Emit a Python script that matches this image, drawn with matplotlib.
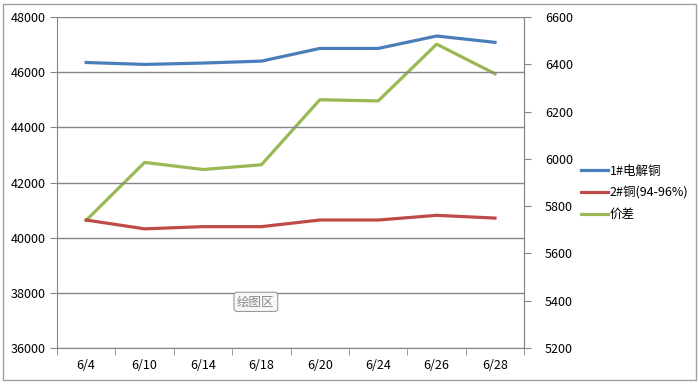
import matplotlib.pyplot as plt
from matplotlib.patches import Rectangle

plt.rcParams['font.family'] = ['Noto Sans CJK SC', 'DejaVu Sans']

# data
dates = ['6/4', '6/10', '6/14', '6/18', '6/20', '6/24', '6/26', '6/28']
cu1 = [46350, 46280, 46330, 46400, 46860, 46860, 47310, 47080]
cu2 = [40640, 40320, 40400, 40400, 40640, 40640, 40810, 40710]
spread = [5740, 5985, 5955, 5975, 6250, 6245, 6485, 6360]
left_ticks = [36000, 38000, 40000, 42000, 44000, 46000, 48000]
right_ticks = [5200, 5400, 5600, 5800, 6000, 6200, 6400, 6600]

gray = '#868686'
fig = plt.figure(figsize=(6.99, 3.86), dpi=100)
fig.patches.append(Rectangle((0.005, 0.015), 0.991, 0.975, transform=fig.transFigure,
                             fill=False, edgecolor='#a0a0a0', lw=1))

ax = fig.add_axes([0.0815, 0.0984, 0.6685, 0.8576])
ax2 = ax.twinx()

x = range(len(dates))
l1, = ax.plot(x, cu1, color='#4A7EBB', lw=2.3, label='1#电解铜')
l2, = ax.plot(x, cu2, color='#BE4B48', lw=2.3, label='2#铜(94-96%)')
l3, = ax2.plot(x, spread, color='#98B954', lw=2.3, label='价差')

ax.set_xlim(-0.5, len(dates) - 0.5)
ax.set_ylim(36000, 48000)
ax2.set_ylim(5200, 6600)
ax.set_yticks(left_ticks)
ax.set_yticklabels([str(v) for v in left_ticks], fontsize=9)
ax2.set_yticks(right_ticks)
ax2.set_yticklabels([str(v) for v in right_ticks], fontsize=9)
ax.set_xticks(list(x))
ax.set_xticklabels(dates, fontsize=9)
ax.set_xticks([i + 0.5 for i in range(-1, len(dates))], minor=True)
ax.tick_params(axis='x', which='major', length=0, pad=8)
ax.tick_params(axis='x', which='minor', length=5, color=gray, direction='out')
ax.tick_params(axis='y', length=5, color=gray, pad=3)
ax2.tick_params(axis='y', length=5, color=gray, pad=10)
ax.grid(axis='y', color=gray, lw=1)

for a in (ax, ax2):
    for s in a.spines.values():
        s.set_color(gray)
    a.spines['top'].set_visible(False)
ax.set_zorder(ax2.get_zorder() + 1)
ax.patch.set_visible(False)
ax2.spines['left'].set_visible(False)
ax2.spines['bottom'].set_visible(False)

fig.legend([l1, l2, l3], [l1.get_label(), l2.get_label(), l3.get_label()],
           loc='center left', bbox_to_anchor=(0.815, 0.5), frameon=False,
           fontsize=9, handlelength=2.2, handletextpad=0.1, labelspacing=0.7)

# "plot area" tooltip
fig.text(0.366, 0.218, '绘图区', fontsize=9, color='#888888', ha='center', va='center',
         bbox=dict(boxstyle='round,pad=0.25', fc='#f7f7f7', ec='#9a9a9a', lw=0.8))

fig.savefig('out.png', dpi=100)
